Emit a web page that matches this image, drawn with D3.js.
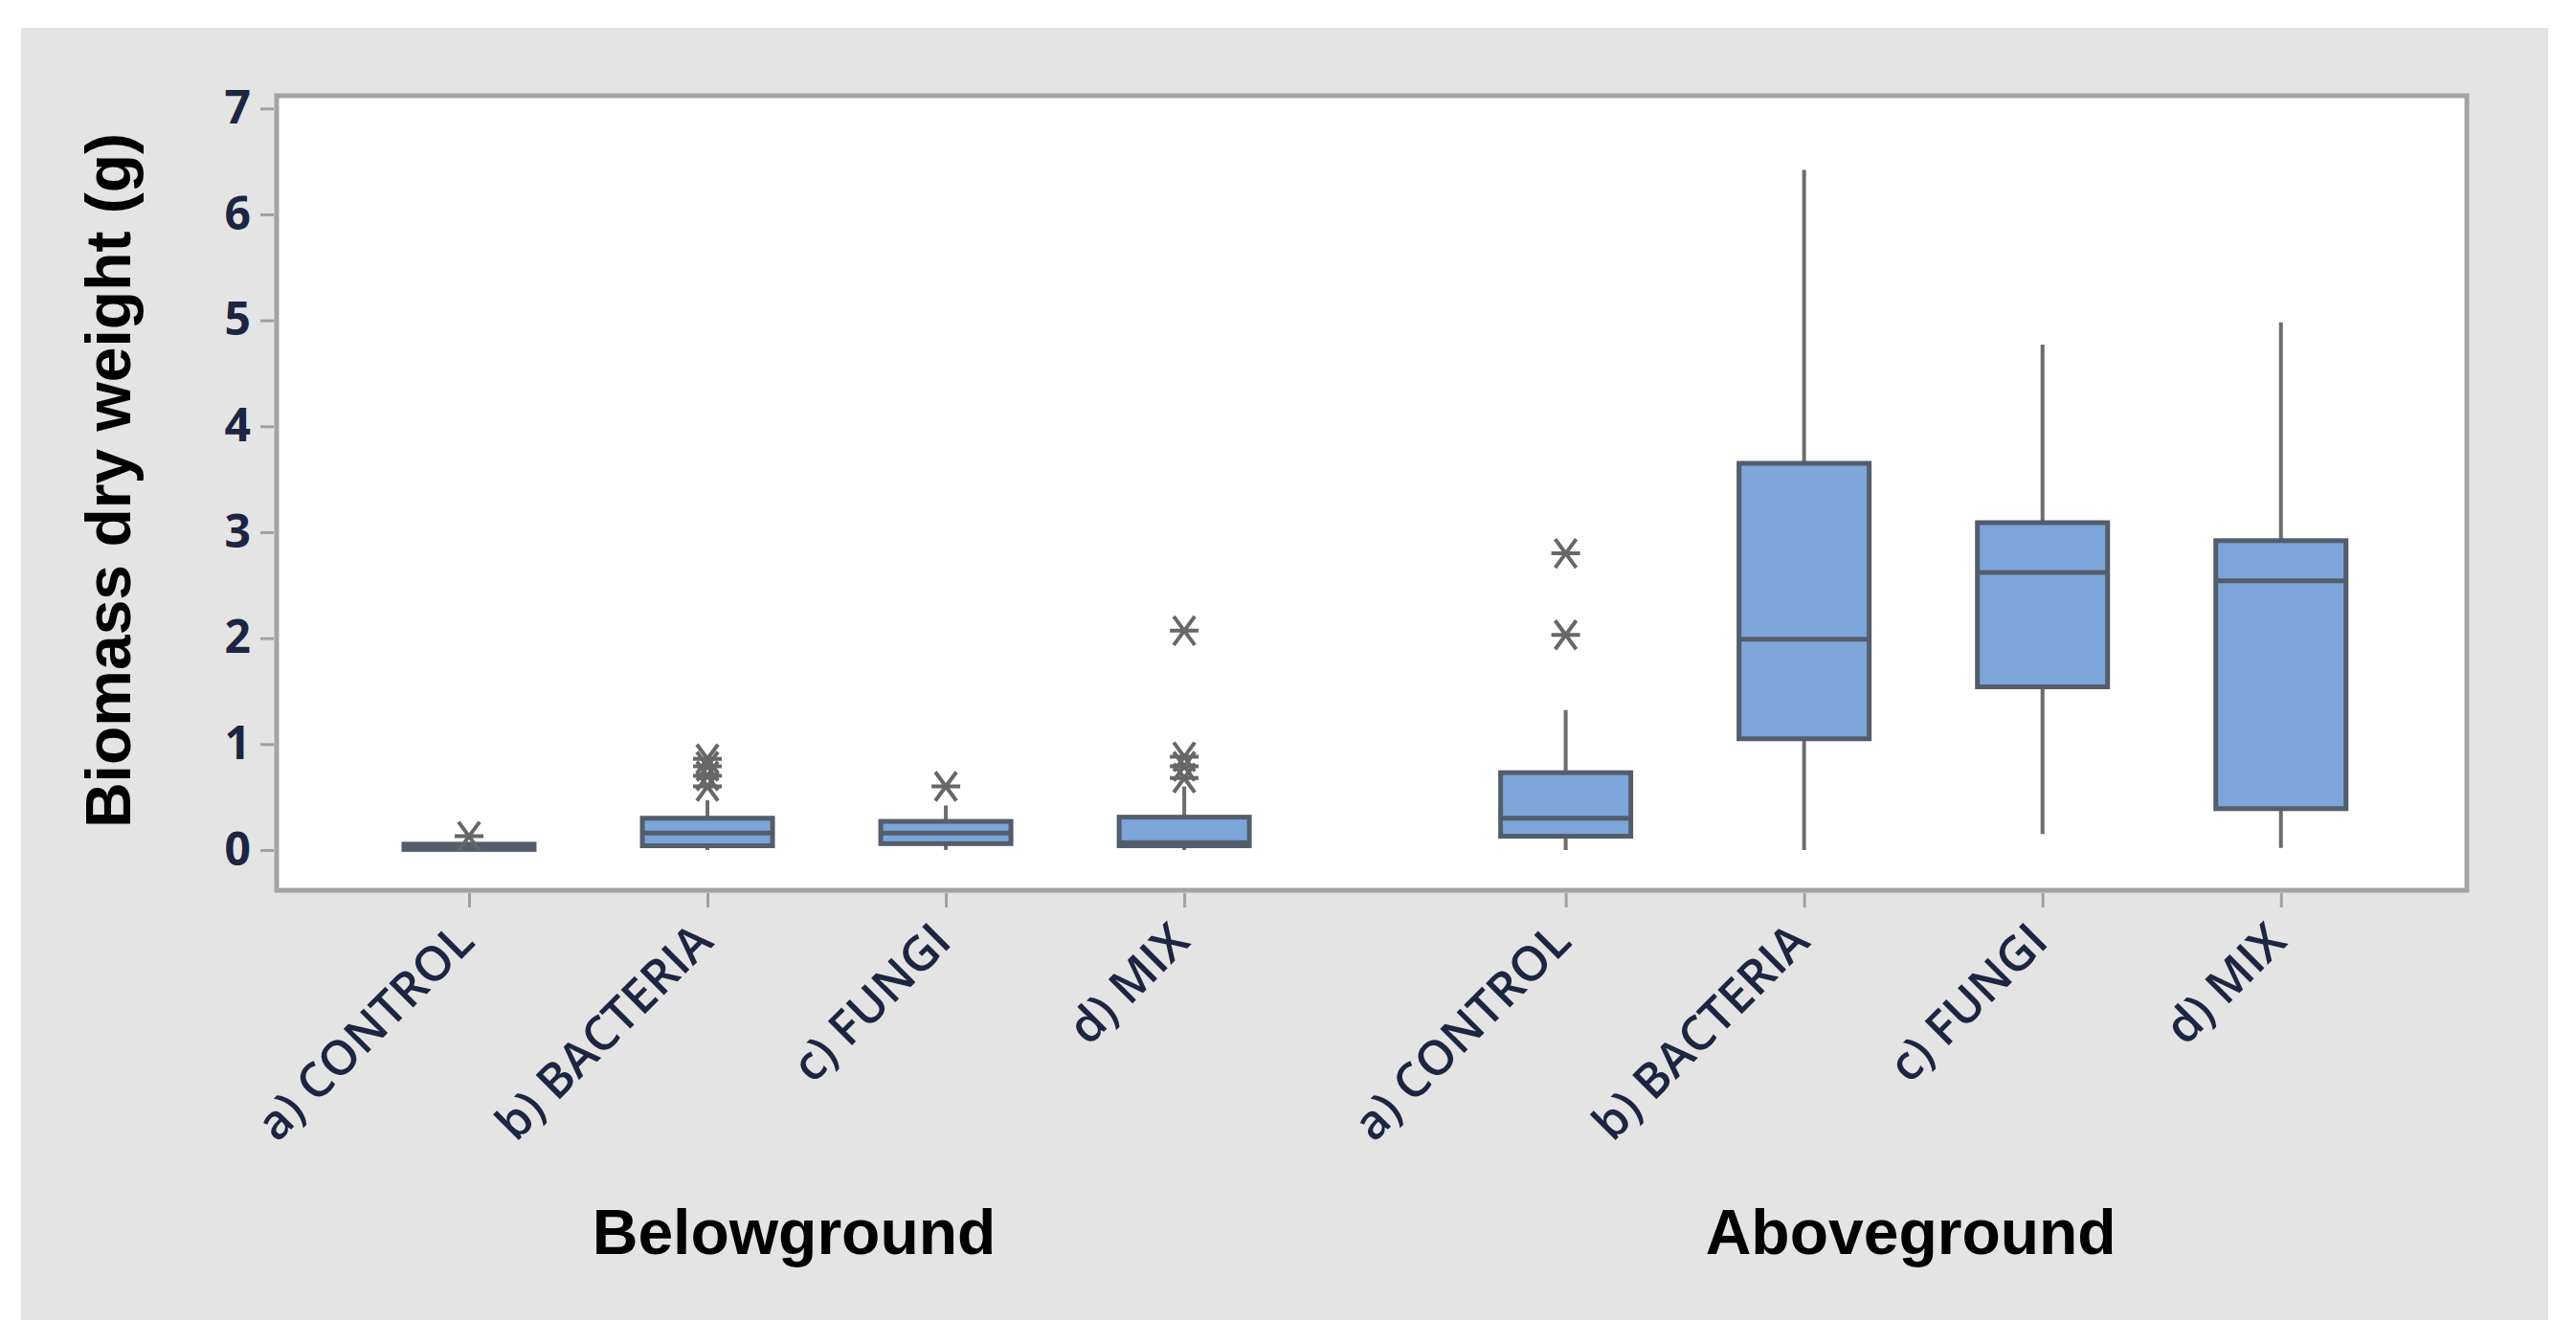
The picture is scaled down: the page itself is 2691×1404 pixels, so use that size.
<!DOCTYPE html>
<html>
<head>
<meta charset="utf-8">
<script src="https://cdn.jsdelivr.net/npm/d3@7"></script>
<style>
  html, body { margin: 0; padding: 0; background: #ffffff; }
</style>
</head>
<body>
<div id="chart"></div>
<script>
// data
const groups = ["Belowground", "Aboveground"];
const treatments = ["a) CONTROL", "b) BACTERIA", "c) FUNGI", "d) MIX"];

// one entry per box: below a..d, then above a..d
const whiskerLow  = [0.00, 0.00, 0.00, 0.00, 0.00, 0.00, 0.15, 0.02];
const q1          = [0.005, 0.04, 0.06, 0.04, 0.13, 1.05, 1.54, 0.39];
const median      = [0.03, 0.16, 0.16, 0.07, 0.30, 1.99, 2.62, 2.54];
const q3          = [0.055, 0.30, 0.27, 0.31, 0.73, 3.65, 3.09, 2.92];
const whiskerHigh = [0.07, 0.47, 0.42, 0.60, 1.32, 6.42, 4.77, 4.98];
const outliers = [
  [0.13],
  [0.86, 0.79, 0.70, 0.60],
  [0.60],
  [2.07, 0.88, 0.79, 0.68],
  [2.80, 2.03],
  [],
  [],
  []
];
const yTicks = [0, 1, 2, 3, 4, 5, 6, 7];

const W = 2691, H = 1404;
const frame = { left: 289, top: 100, right: 2577, bottom: 930 };
const groupGap = 4.6;          // slot index where the second group starts
const groupLabelShift = [-34, -13];

const svg = d3.select("#chart").append("svg")
  .attr("width", W)
  .attr("height", H);

// grey panel behind everything
svg.append("rect")
  .attr("x", 22).attr("y", 29)
  .attr("width", 2640).attr("height", 1350)
  .attr("fill", "#e4e4e4");

const x = d3.scaleLinear()
  .domain([-0.807, 8.38])
  .range([frame.left, frame.right]);
const y = d3.scaleLinear()
  .domain([-0.38, 7.12])
  .range([frame.bottom, frame.top]);

const boxes = [];
groups.forEach((g, gi) => {
  treatments.forEach((t, ti) => {
    const k = gi * treatments.length + ti;
    boxes.push({
      group: g, name: t, slot: gi * groupGap + ti,
      lo: whiskerLow[k], q1: q1[k], med: median[k], q3: q3[k], hi: whiskerHigh[k],
      out: outliers[k]
    });
  });
});

// plot area
svg.append("rect")
  .attr("x", frame.left).attr("y", frame.top)
  .attr("width", frame.right - frame.left)
  .attr("height", frame.bottom - frame.top)
  .attr("fill", "#ffffff")
  .attr("stroke", "#a3a3a3")
  .attr("stroke-width", 5);

// y axis
const yAxis = svg.append("g")
  .attr("transform", `translate(${frame.left - 3},0)`)
  .call(d3.axisLeft(y).tickValues(yTicks).tickSize(14).tickPadding(10).tickFormat(d3.format("d")));
yAxis.select(".domain").remove();
yAxis.selectAll(".tick line").attr("stroke", "#a0a0a0").attr("stroke-width", 3);
yAxis.selectAll(".tick text")
  .attr("fill", "#1c2541")
  .style("font-family", "'Open Sans', sans-serif")
  .style("font-weight", 700)
  .style("font-size", "48px");

// x axis ticks
const xAxis = svg.append("g")
  .attr("transform", `translate(0,${frame.bottom + 3})`)
  .call(d3.axisBottom(x).tickValues(boxes.map(d => d.slot)).tickSize(15).tickFormat(""));
xAxis.select(".domain").remove();
xAxis.selectAll(".tick line").attr("stroke", "#a0a0a0").attr("stroke-width", 3);

svg.append("g")
  .selectAll("text")
  .data(boxes)
  .join("text")
  .attr("transform", d => `translate(${x(d.slot) + 8},${frame.bottom + 56}) rotate(-45)`)
  .attr("text-anchor", "end")
  .attr("fill", "#1c2541")
  .style("font-family", "'Open Sans', sans-serif")
  .style("font-weight", 600)
  .style("font-size", "50px")
  .text(d => d.name);

// group labels
svg.append("g")
  .selectAll("text")
  .data(groups)
  .join("text")
  .attr("x", (g, gi) => x(gi * groupGap + (treatments.length - 1) / 2) + groupLabelShift[gi])
  .attr("y", 1310)
  .attr("text-anchor", "middle")
  .attr("fill", "#000")
  .style("font-family", "'Liberation Sans', Arial, sans-serif")
  .style("font-weight", 700)
  .style("font-size", "66px")
  .text(g => g);

// y axis title
svg.append("text")
  .attr("transform", `translate(136,${502}) rotate(-90)`)
  .attr("text-anchor", "middle")
  .attr("fill", "#000")
  .style("font-family", "'Liberation Sans', Arial, sans-serif")
  .style("font-weight", 700)
  .style("font-size", "66px")
  .text("Biomass dry weight (g)");

// boxes
const boxW = 136;
const bx = svg.append("g").selectAll("g")
  .data(boxes)
  .join("g");

bx.append("line")
  .attr("x1", d => x(d.slot)).attr("x2", d => x(d.slot))
  .attr("y1", d => y(d.lo)).attr("y2", d => y(d.hi))
  .attr("stroke", "#6c6c6c")
  .attr("stroke-width", 4);

bx.append("rect")
  .attr("x", d => x(d.slot) - boxW / 2)
  .attr("width", boxW)
  .attr("y", d => y(d.q3))
  .attr("height", d => y(d.q1) - y(d.q3))
  .attr("fill", "#7ca6d9")
  .attr("stroke", "#545d6b")
  .attr("stroke-width", 5);

bx.append("line")
  .attr("x1", d => x(d.slot) - boxW / 2).attr("x2", d => x(d.slot) + boxW / 2)
  .attr("y1", d => y(d.med)).attr("y2", d => y(d.med))
  .attr("stroke", "#545d6b")
  .attr("stroke-width", 5);

// outliers drawn as minitab-style asterisks
const star = "M-15,0H15M-11,-15L11,15M-11,15L11,-15";
bx.selectAll("path.out")
  .data(d => d.out.map(v => ({ slot: d.slot, v })))
  .join("path")
  .attr("class", "out")
  .attr("transform", o => `translate(${x(o.slot)},${y(o.v)})`)
  .attr("d", star)
  .attr("fill", "none")
  .attr("stroke", "#676767")
  .attr("stroke-width", 4);
</script>
</body>
</html>
